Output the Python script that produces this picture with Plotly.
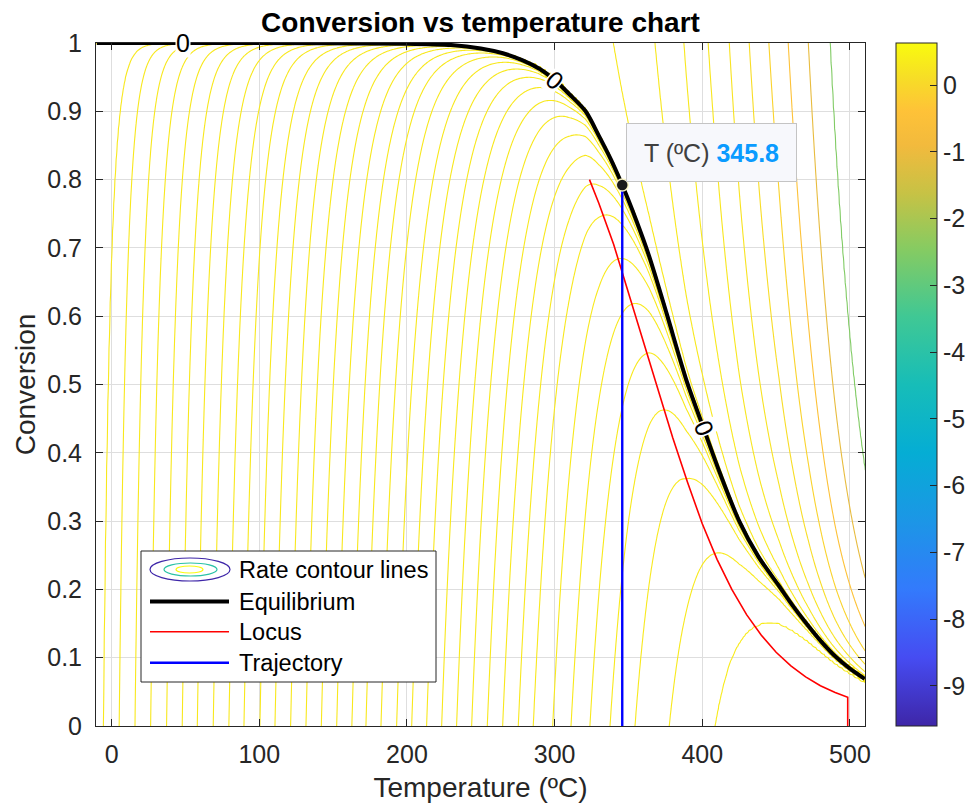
import numpy as np
import plotly.graph_objects as go

# ---------------- data ----------------
# equilibrium curve (T in degC, conversion)
eq_T = [-10, 100, 200, 230, 250, 265, 278, 290, 300, 310, 321, 330, 338, 345.8,
        355, 364, 376, 389, 400.7, 412, 425, 438, 452, 462, 472, 480, 490, 500, 510]
eq_X = [1.0, 1.0, 0.999, 0.997, 0.992, 0.985, 0.975, 0.962, 0.946, 0.925, 0.90, 0.864, 0.83, 0.792,
        0.742, 0.688, 0.603, 0.508, 0.437, 0.37, 0.30, 0.248, 0.205, 0.174, 0.146, 0.125, 0.102, 0.084, 0.069]
# locus of maximum rate
locus_T = [323.6, 330, 340, 350, 360, 370, 380, 390, 400, 410, 420, 430, 440, 450,
           460, 470, 480, 490, 498.5, 498.5]
locus_X = [0.80, 0.765, 0.705, 0.635, 0.565, 0.492, 0.422, 0.357, 0.296, 0.244, 0.200, 0.163,
           0.133, 0.108, 0.088, 0.072, 0.059, 0.049, 0.042, 0.0]
# trajectory (vertical line at the selected temperature)
traj_T = [345.8, 345.8]
traj_X = [0.0, 0.792]
sel_T = 345.8
sel_X = 0.792
# temperatures where the positive-rate contour lines meet X = 0
pos_level_T = [-5.7, 5.1, 15.8, 26.4, 37.2, 47.8, 58.0, 68.8, 79.4, 89.6, 100.4, 110.6, 121.2,
               131.6, 142.0, 152.4, 162.7, 172.2, 182.4, 193.0, 203.2, 213.3, 223.5, 233.6,
               243.8, 254.4, 264.8, 275.4, 285.5, 298.7, 311.1, 323.9, 337.5, 354.4, 377.6, 408.5]
# temperatures where the negative-rate contour lines meet X = 1
neg_level_T = [339.7, 368.0, 387.6, 404.0, 418.3, 431.8, 445.1, 458.2, 471.8, 486.5]
# labels "0" on the equilibrium contour
label_T = [48.4, 300.2, 401.5]
label_X = [1.0, 0.946, 0.437]
label_angle = [0, 40, 68]

x_ticks = [0, 100, 200, 300, 400, 500]
y_ticks = [0, 0.1, 0.2, 0.3, 0.4, 0.5, 0.6, 0.7, 0.8, 0.9, 1.0]
y_ticktext = ["0", "0.1", "0.2", "0.3", "0.4", "0.5", "0.6", "0.7", "0.8", "0.9", "1"]
cbar_ticks = [-9, -8, -7, -6, -5, -4, -3, -2, -1, 0]
cbar_ticktext = ["-9", "-8", "-7", "-6", "-5", "-4", "-3", "-2", "-1", "0"]
cbar_min, cbar_max = -9.6, 0.63

# kinetic model parameters for the rate field
E_k = 15000.0       # activation temperature, K
k_ref = 0.63        # rate constant at T_ref
T_ref = 783.15      # K
lnK_A, lnK_B = -18.0, 11960.0

# ---------------- parula colour map ----------------
PARULA = [
    (0.000, (0.2422, 0.1504, 0.6603)),
    (0.100, (0.2760, 0.3000, 0.9500)),
    (0.200, (0.2000, 0.4800, 0.9900)),
    (0.300, (0.1100, 0.5900, 0.9000)),
    (0.400, (0.0200, 0.6800, 0.8300)),
    (0.500, (0.0900, 0.7400, 0.7200)),
    (0.600, (0.2500, 0.7850, 0.5800)),
    (0.700, (0.5300, 0.7950, 0.3800)),
    (0.780, (0.7800, 0.7600, 0.2700)),
    (0.850, (0.9500, 0.7300, 0.2400)),
    (0.900, (0.9950, 0.7600, 0.2200)),
    (0.950, (0.9700, 0.8700, 0.1500)),
    (1.000, (0.9763, 0.9831, 0.0538)),
]


def parula(f):
    f = min(max(f, 0.0), 1.0)
    ps = [p for p, _ in PARULA]
    cs = [c for _, c in PARULA]
    rgb = [np.interp(f, ps, [c[i] for c in cs]) for i in range(3)]
    return "rgb(%d,%d,%d)" % tuple(int(round(255 * v)) for v in rgb)


parula_cs = [[p, parula(p)] for p, _ in PARULA]

# ---------------- rate field ----------------
eqT = np.array(eq_T, float)
eqX = np.array(eq_X, float)
msk = eqT >= 250
corr_T = eqT[msk]
corr_v = np.log(eqX[msk] / (1 - eqX[msk])) - (lnK_A + lnK_B / (corr_T + 273.15))


def k_of(T):
    T = np.asarray(T, float)
    return k_ref * np.exp(-E_k * (1.0 / (T + 273.15) - 1.0 / T_ref))


def lnK_of(T):
    T = np.asarray(T, float)
    return lnK_A + lnK_B / (T + 273.15) + np.interp(T, corr_T, corr_v)


Tg = np.linspace(-10.6, 510.4, 652)
Xg = np.unique(np.round(np.concatenate([np.linspace(0, 0.95, 191),
                                        1 - np.geomspace(0.05, 1e-6, 90), [1.0]]), 8))
TT, XX = np.meshgrid(Tg, Xg)
R = k_of(TT) * ((1 - XX) - XX * np.exp(-lnK_of(TT)))

pos_L = k_of(pos_level_T)
neg_L = k_of(neg_level_T) * np.exp(-lnK_of(neg_level_T))
Np, Nn = len(pos_L), len(neg_L)

# map the rate to a level index so that contour levels are integers
W = np.zeros_like(R)
pmask = R > 0
rp = R[pmask]
lp = np.concatenate([np.log(pos_L), [np.log(R.max()) + 1.0]])
ip = np.arange(1, Np + 2, dtype=float)
W[pmask] = np.where(rp < pos_L[0], rp / pos_L[0],
                    np.interp(np.log(np.maximum(rp, 1e-300)), lp, ip))
nmask = R < 0
rn = -R[nmask]
ln_ = np.concatenate([np.log(neg_L), [np.log(rn.max()) + 1.0]])
inn = np.arange(1, Nn + 2, dtype=float)
W[nmask] = -np.where(rn < neg_L[0], rn / neg_L[0],
                     np.interp(np.log(np.maximum(rn, 1e-300)), ln_, inn))
W = np.round(W, 3)

# colour of every contour level (parula mapped on the rate value)
LINE_SHIFT = 0.03
contour_cs = []
for j in range(-Nn, Np + 1):
    if j < 0:
        lev = -neg_L[-j - 1]
    elif j == 0:
        lev = 0.0
    else:
        lev = pos_L[j - 1]
    frac = (lev - cbar_min) / (cbar_max - cbar_min)
    contour_cs.append([(j + Nn) / (Nn + Np), parula(frac + LINE_SHIFT)])

FONT = "Liberation Sans, Arial, sans-serif"
DARK = "#262626"

fig = go.Figure()
fig.add_trace(go.Contour(
    x=Tg, y=Xg, z=W, autocontour=False,
    contours=dict(start=-Nn, end=Np, size=1, coloring="lines", showlabels=False),
    colorscale=contour_cs, showscale=False, line=dict(width=1.1, smoothing=0),
    hoverinfo="skip", showlegend=False))

fig.add_trace(go.Scatter(x=eq_T, y=eq_X, mode="lines",
                         line=dict(color="black", width=4, shape="spline", smoothing=0.8),
                         hoverinfo="skip", showlegend=False, cliponaxis=True))
fig.add_trace(go.Scatter(x=locus_T, y=locus_X, mode="lines", line=dict(color="#ff0000", width=1.6),
                         hoverinfo="skip", showlegend=False))
fig.add_trace(go.Scatter(x=traj_T, y=traj_X, mode="lines", line=dict(color="#0000ff", width=2.4),
                         hoverinfo="skip", showlegend=False))
fig.add_trace(go.Scatter(x=[sel_T], y=[sel_X], mode="markers",
                         marker=dict(color="#1a1a1a", size=12,
                                     line=dict(color="rgba(255,250,200,0.95)", width=1.5)),
                         hoverinfo="skip", showlegend=False))
# colour bar holder
fig.add_trace(go.Scatter(x=[sel_T], y=[sel_X], mode="markers",
                         marker=dict(color=[0], colorscale=parula_cs, cmin=cbar_min, cmax=cbar_max,
                                     opacity=0, size=1, showscale=True,
                                     colorbar=dict(thickness=41, thicknessmode="pixels", len=1,
                                                   lenmode="fraction", x=(896 - 96) / 769,
                                                   xanchor="left", y=0.5, yanchor="middle",
                                                   xpad=0, ypad=0, outlinewidth=1,
                                                   outlinecolor=DARK, ticks="inside", ticklen=7,
                                                   tickcolor=DARK, tickvals=cbar_ticks,
                                                   ticktext=cbar_ticktext,
                                                   tickfont=dict(family=FONT, size=25, color=DARK))),
                         hoverinfo="skip", showlegend=False))

# contour labels "0"
for t, x, a in zip(label_T, label_X, label_angle):
    fig.add_annotation(x=t, y=x, text="0", showarrow=False, textangle=a,
                       font=dict(family=FONT, size=25, color="black"),
                       bgcolor="white", borderpad=0)

# data tip
fig.add_annotation(x=406.2, y=0.840, xanchor="center", yanchor="middle", showarrow=False,
                   text="T (ºC) <b><span style='color:#0a9bff'>%.1f</span></b>" % sel_T,
                   font=dict(family=FONT, size=25, color="#404040"),
                   bgcolor="#f7f8fc", bordercolor="#c4c4c4", borderwidth=1, borderpad=4,
                   width=161, height=49)


# ---------------- legend (drawn) ----------------
def px(x):
    return (x - 96) / 769.0


def py(y):
    return (726 - y) / 683.0


fig.add_shape(type="rect", xref="paper", yref="paper", x0=px(141), x1=px(436), y0=py(682), y1=py(551),
              line=dict(color=DARK, width=1), fillcolor="white")
for (x0, x1, y0, y1, c) in [(150, 230, 558, 581, parula(0.0)), (164, 217, 563, 576, parula(0.55)),
                             (176, 203, 566, 573, parula(1.0))]:
    fig.add_shape(type="circle", xref="paper", yref="paper", x0=px(x0), x1=px(x1), y0=py(y1), y1=py(y0),
                  line=dict(color=c, width=1.2))
for (yy, c, w) in [(601.5, "black", 4), (631.7, "#ff0000", 1.6), (662.7, "#0000ff", 2.4)]:
    fig.add_shape(type="line", xref="paper", yref="paper", x0=px(150), x1=px(229), y0=py(yy), y1=py(yy),
                  line=dict(color=c, width=w))
for (yy, txt) in [(569.5, "Rate contour lines"), (601.5, "Equilibrium"), (631.7, "Locus"),
                  (662.7, "Trajectory")]:
    fig.add_annotation(xref="paper", yref="paper", x=px(237), y=py(yy), xanchor="left", yanchor="middle",
                       text=txt, showarrow=False, font=dict(family=FONT, size=23.5, color="black"))

axis_common = dict(showgrid=True, gridcolor="#dedede", gridwidth=1, zeroline=False, showline=True,
                   mirror="ticks", linecolor=DARK, linewidth=1, ticks="inside", ticklen=7,
                   tickcolor=DARK, tickfont=dict(family=FONT, size=25, color=DARK))
fig.update_layout(
    width=973, height=809, margin=dict(l=96, r=108, t=43, b=83, autoexpand=False),
    paper_bgcolor="white", plot_bgcolor="white", showlegend=False,
    title=dict(text="<b>Conversion vs temperature chart</b>", x=(96 + 865) / 2 / 973, xanchor="center",
               y=1 - 22 / 809, yanchor="middle", font=dict(family=FONT, size=28, color="black")),
    xaxis=dict(range=[-10.6, 510.2], tickvals=x_ticks, ticklabelstandoff=6,
               title=dict(text="Temperature (ºC)", standoff=10,
                          font=dict(family=FONT, size=28, color=DARK)), **axis_common),
    yaxis=dict(range=[0, 1], tickvals=y_ticks, ticktext=y_ticktext, ticklabelstandoff=8,
               title=dict(text="Conversion", standoff=3,
                          font=dict(family=FONT, size=28, color=DARK)), **axis_common),
)

fig.write_html("out.html")
